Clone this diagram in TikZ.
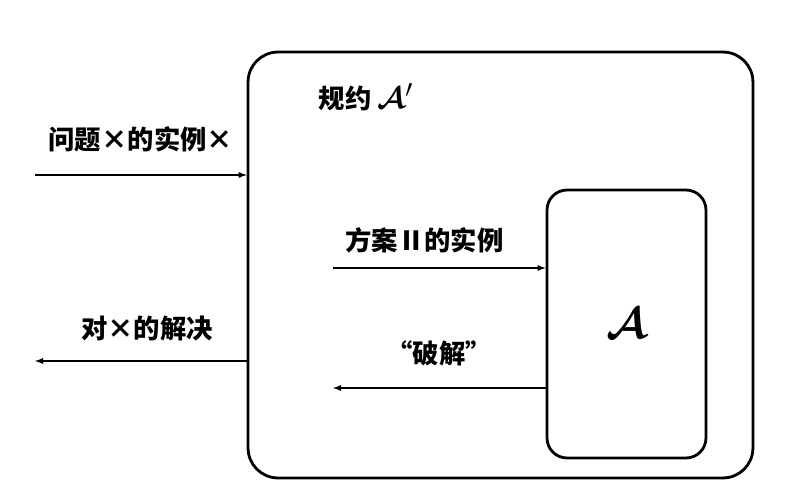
\documentclass[tikz,border=0pt]{standalone}
\usepackage{fontspec}
\newfontfamily\cjk{Noto Sans CJK SC}
\usepackage{amsmath}
\usetikzlibrary{positioning}

\tikzset{
  box/.style={draw, line width=1.6pt, inner sep=0pt},
  flow/.style={-latex, line width=0.6pt},
  lbl/.style={font=\cjk\bfseries\fontsize{15}{17}\selectfont, inner sep=2pt}
}

\begin{document}
\begin{tikzpicture}[x=0.02cm, y=-0.02cm]
    \useasboundingbox (0,0) rectangle (802,500);
    % outer reduction box and the inner adversary
    \node[box, rounded corners=0.6cm, minimum width=10.1cm, minimum height=8.52cm] (red) at (500.5,265) {};
    \node[box, rounded corners=0.4cm, minimum width=3.18cm, minimum height=5.36cm, font=\fontsize{30}{32}\selectfont] (adv) at (626.5,324) {$\boldsymbol{\mathcal{A}}$};
    \node[lbl] (title) at (366,97) {规约 {\fontsize{19}{20}\selectfont$\boldsymbol{\mathcal{A}}'$}};
    % free ends of the arrows
    \coordinate (xin) at (35,175);
    \coordinate (xout) at (35,361);
    \coordinate (pin) at (333,268);
    \coordinate (pout) at (333,388);
    \draw[flow] (xin) -- (xin -| red.west) node[lbl, midway, above=11pt] (xlbl) {问题×的实例×};
    \draw[flow] (xout -| red.west) -- (xout) node[lbl, pos=0.47, above=9pt] (slbl) {对×的解决};
    \draw[flow] (pin) -- (pin -| adv.west) node[lbl, pos=0.43, above=6pt] (plbl) {方案Ⅱ的实例};
    \draw[flow] (pout -| adv.west) -- (pout) node[lbl, pos=0.5, above=10pt] (clbl) {“破解”};
\end{tikzpicture}
\end{document}
